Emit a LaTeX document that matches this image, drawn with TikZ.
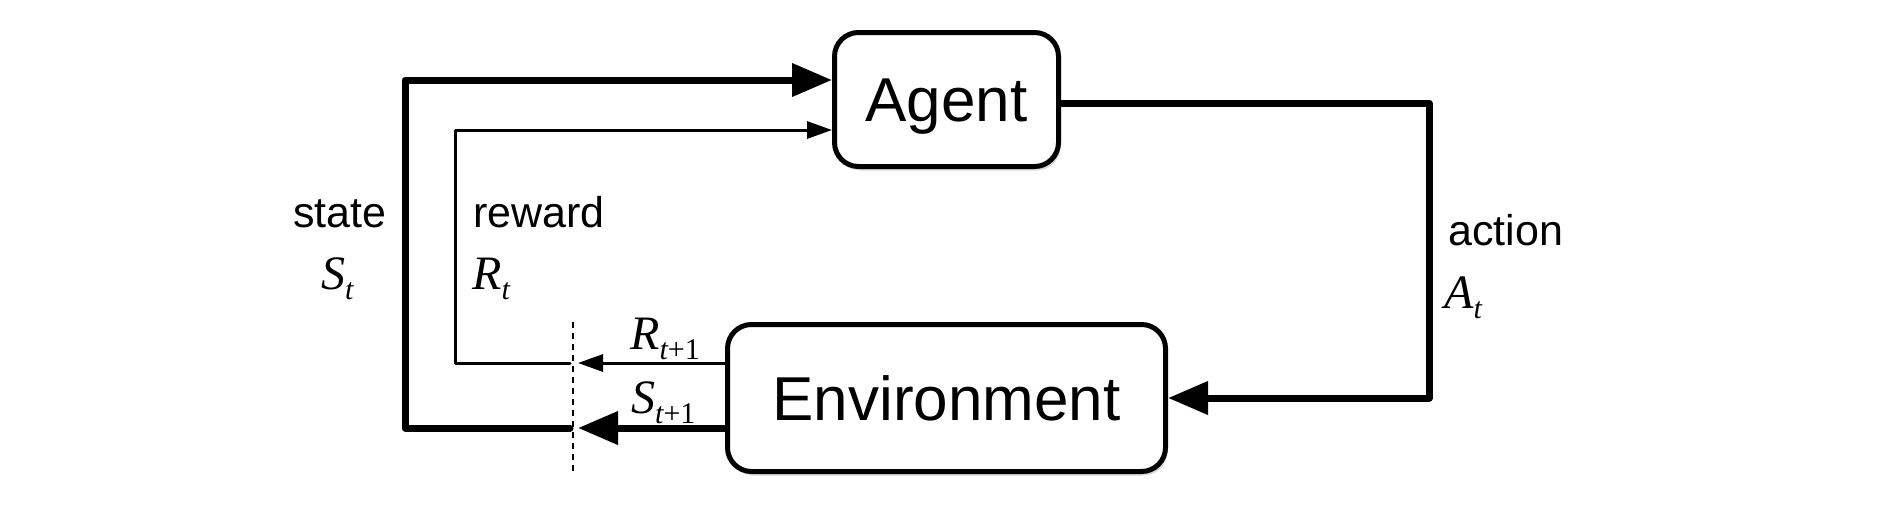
\documentclass[tikz,border=0pt]{standalone}
\usepackage{fontspec}
\setmainfont{Liberation Sans}
\newfontfamily\tms{Liberation Serif}
\usetikzlibrary{arrows.meta,shadows}
\newcommand\mlab[2]{{\tms\fontsize{48}{54}\selectfont\itshape #1\/}\raisebox{-10pt}{\tms\fontsize{30}{36}\selectfont #2}}
\begin{document}
\begin{tikzpicture}[x=1pt,y=-1pt,
  box/.style={draw, line width=5pt, rounded corners=24pt, fill=white, inner sep=0pt,
    text height=44pt, text depth=0pt, font=\fontsize{62}{70}\selectfont,
    drop shadow={opacity=0.3, shadow xshift=2pt, shadow yshift=-4pt}},
  lab/.style={anchor=base west, inner sep=0pt, font=\fontsize{43}{50}\selectfont},
  mathlab/.style={anchor=base west, inner sep=0pt},
  heavy/.style={line width=7pt, line join=round, line cap=round},
  light/.style={line width=3pt, line join=round, line cap=round},
  bighead/.style={-{Triangle[length=40pt,width=32pt]}},
  smallhead/.style={-{Triangle[length=25pt,width=17pt]}},
  cutline/.style={line width=2pt, dash pattern=on 6pt off 5pt}
]
\useasboundingbox (0,0) rectangle (1900,504);

\node[box, minimum width=224pt, minimum height=134pt] (agent) at (946.5,99.5) {Agent};
\node[box, minimum width=438pt, minimum height=147pt] (env) at (946.5,398) {Environment};

% named coordinates
\coordinate (yS) at (0,80);
\coordinate (yR) at (0,130);
\coordinate (yA) at (0,103);
\coordinate (tipR) at (578,363);
\coordinate (tipS) at (578,428);
\coordinate (cutR) at (570,363);
\coordinate (cutS) at (570,428);
\coordinate (dashTop) at (573,322);
\coordinate (dashBot) at (573,473);

% dashed time boundary
\draw[cutline] (dashTop) -- (dashBot);

% environment -> boundary
\draw[light, smallhead] (env.west |- tipR) -- (tipR);
\draw[heavy, bighead] (env.west |- tipS) -- (tipS);

% boundary -> agent
\draw[heavy, bighead] (cutS) -- (405,428) -- (405,80) -- (agent.west |- yS);
\draw[light, smallhead] (cutR) -- (455,363) -- (455,130) -- (agent.west |- yR);

% action
\draw[heavy, bighead] (agent.east |- yA) -- (1429,103) -- (1429,398) -- (env.east);

% labels
\node[lab] (lstate) at (293,227) {state};
\node[mathlab] (lSt) at (321,289) {\mlab{S}{\itshape t}};
\node[lab] (lreward) at (473,227) {reward};
\node[mathlab] (lRt) at (472,289) {\mlab{R}{\itshape t}};
\node[lab] (laction) at (1448,245) {action};
\node[mathlab] (lAt) at (1444,308) {\mlab{A}{\itshape t}};
\node[mathlab] (lRt1) at (630,349) {\mlab{R}{{\itshape t}+1}};
\node[mathlab] (lSt1) at (631,413) {\mlab{S}{{\itshape t}+1}};
\end{tikzpicture}
\end{document}
